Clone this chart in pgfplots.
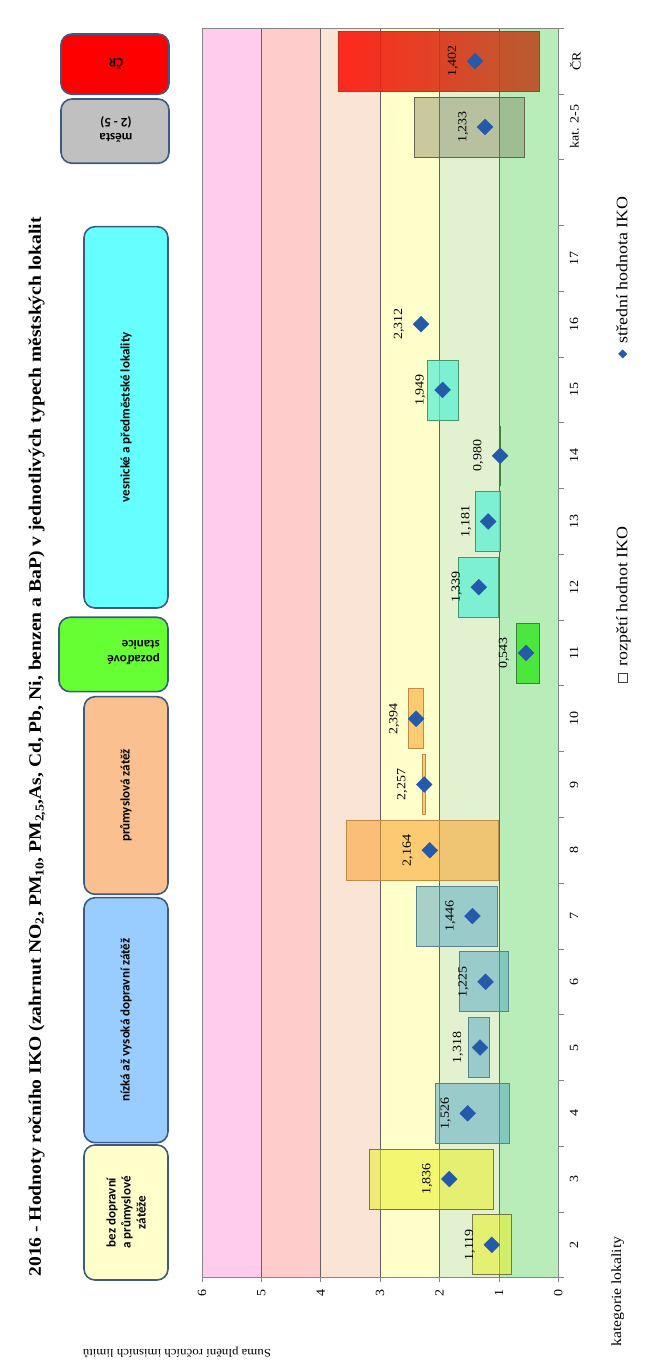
\documentclass[border=0pt]{standalone}
\usepackage{fontspec}
\setmainfont{Liberation Serif}[FakeStretch=1.12]
\newfontfamily\boxfont{Carlito}
\usepackage{graphicx}
\usepackage{pgfplots}
\pgfplotsset{compat=1.18}

\definecolor{bandA}{RGB}{184,236,184}
\definecolor{bandB}{RGB}{226,242,208}
\definecolor{bandC}{RGB}{255,255,204}
\definecolor{bandD}{RGB}{250,228,214}
\definecolor{bandE}{RGB}{255,204,204}
\definecolor{bandF}{RGB}{255,204,238}
\definecolor{yelF}{RGB}{232,240,40}
\definecolor{yelE}{RGB}{120,120,70}
\definecolor{tealF}{RGB}{80,165,195}
\definecolor{tealE}{RGB}{90,130,140}
\definecolor{orF}{RGB}{250,160,40}
\definecolor{orE}{RGB}{190,140,70}
\definecolor{grF}{RGB}{50,230,30}
\definecolor{grE}{RGB}{60,130,60}
\definecolor{aqF}{RGB}{90,240,210}
\definecolor{aqE}{RGB}{70,150,110}
\definecolor{gyF}{RGB}{120,120,90}
\definecolor{gyE}{RGB}{100,100,80}
\definecolor{redT}{RGB}{255,20,10}
\definecolor{redM}{RGB}{240,50,12}
\definecolor{redB}{RGB}{185,78,32}
\definecolor{redE}{RGB}{170,60,40}
\definecolor{dia}{RGB}{37,90,170}
\definecolor{boxE}{RGB}{60,90,130}
\definecolor{bx1}{RGB}{255,255,204}
\definecolor{bx2}{RGB}{153,204,255}
\definecolor{bx3}{RGB}{250,192,144}
\definecolor{bx4}{RGB}{102,255,51}
\definecolor{bx5}{RGB}{102,255,255}
\definecolor{bx6}{RGB}{192,192,192}
\definecolor{bx7}{RGB}{255,0,0}
\definecolor{axgray}{RGB}{134,134,134}

\begin{document}
\rotatebox{90}{%
\begin{tikzpicture}[x=1pt,y=1pt]
\path (0,0) rectangle (1371,650);

% title
\node[font=\bfseries\fontsize{17.5}{20}\selectfont] at (624,613)
 {2016 - Hodnoty ročního IKO (zahrnut NO\textsubscript{2}, PM\textsubscript{10}, PM\textsubscript{2,5},As, Cd, Pb, Ni, benzen a BaP) v jednotlivých typech městských lokalit};

% category boxes
\tikzset{catbox/.style={rounded corners=11pt, draw=boxE, line width=1.6pt}}
\draw[catbox, fill=bx1] (91,482) rectangle (226,566);
\draw[catbox, fill=bx2] (228.3,482) rectangle (473.3,566);
\draw[catbox, fill=bx3] (476.7,482) rectangle (674.3,566);
\draw[catbox, fill=bx4] (679.3,482) rectangle (753.7,591);
\draw[catbox, fill=bx5] (763,482) rectangle (1144.3,566);
\draw[catbox, fill=bx6] (1207.7,481) rectangle (1272,589);
\draw[catbox, fill=bx7] (1276.7,481) rectangle (1337,589);
\tikzset{boxtxt/.style={font=\boxfont\bfseries\fontsize{13}{15}\selectfont}}
\node[boxtxt, align=center] at (158.5,524) {bez dopravní\\a průmyslové\\zátěže};
\node[boxtxt] at (350.8,524) {nízká až vysoká dopravní zátěž};
\node[boxtxt] at (575.5,524) {průmyslová zátěž};
\node[boxtxt, rotate=90, anchor=west, align=left, inner sep=0pt] at (718.5,490) {pozaďové\\stanice};
\node[boxtxt] at (953.7,524) {vesnické a předměstské lokality};
\node[boxtxt, rotate=90, align=center] at (1241.5,534) {města\\(2 - 5)};
\node[boxtxt, rotate=90] at (1307,534) {ČR};

% axis side texts
\node[rotate=90, font=\fontsize{11.5}{13}\selectfont] at (19,473) {Suma plnění ročních imisních limitů};
\node[anchor=west, inner sep=0pt, font=\fontsize{14}{16}\selectfont] at (24,32.3) {kategorie lokality};

\begin{axis}[
  at={(93.3pt,91.7pt)}, anchor=south west,
  width=1249.4pt, height=356.3pt, scale only axis,
  set layers,
  xmin=-0.5, xmax=18.5, ymin=0, ymax=6,
  xtick={0,...,18},
  xticklabels={2,3,4,5,6,7,8,9,10,11,12,13,14,15,16,17,{},kat. 2-5,ČR},
  minor xtick={-0.5,0.5,...,18.5},
  ytick={0,...,6},
  xtick pos=bottom, ytick pos=left,
  tick align=outside,
  major x tick style={draw=none},
  minor x tick style={draw=axgray, line width=0.8pt},
  minor tick length=6pt,
  major tick length=4pt,
  ytick style={draw=axgray, line width=0.8pt},
  axis line style={draw=axgray, line width=0.9pt},
  ymajorgrids,
  grid style={draw=black!62, line width=0.7pt},
  /pgf/number format/assume math mode=true,
  ticklabel style={font=\fontsize{12.5}{14}\selectfont},
  xticklabel style={yshift=-4pt},
  yticklabel style={xshift=-4pt},
  legend style={draw=none, fill=none, at={(0.474,-0.1807)}, anchor=west,
    font=\fontsize{16}{18}\selectfont,
    /tikz/every odd column/.append style={column sep=4pt},
    /tikz/every even column/.append style={column sep=166pt}},
  legend columns=2,
]
\begin{pgfonlayer}{axis background}
\fill[bandA] (axis cs:-0.5,0) rectangle (axis cs:18.5,1);
\fill[bandB] (axis cs:-0.5,1) rectangle (axis cs:18.5,2);
\fill[bandC] (axis cs:-0.5,2) rectangle (axis cs:18.5,3);
\fill[bandD] (axis cs:-0.5,3) rectangle (axis cs:18.5,4);
\fill[bandE] (axis cs:-0.5,4) rectangle (axis cs:18.5,5);
\fill[bandF] (axis cs:-0.5,5) rectangle (axis cs:18.5,6);
\end{pgfonlayer}

% range bars (min..max per category)
\addplot[draw=yelE, fill=yelF, fill opacity=0.55, line width=0.8pt, forget plot] coordinates {(-0.456,0.785) (0.456,0.785) (0.456,1.448) (-0.456,1.448)} -- cycle;
\addplot[draw=yelE, fill=yelF, fill opacity=0.55, line width=0.8pt, forget plot] coordinates {(0.544,1.09) (1.456,1.09) (1.456,3.18) (0.544,3.18)} -- cycle;
\addplot[draw=tealE, fill=tealF, fill opacity=0.5, line width=0.8pt, forget plot] coordinates {(1.544,0.82) (2.456,0.82) (2.456,2.07) (1.544,2.07)} -- cycle;
\addplot[draw=tealE, fill=tealF, fill opacity=0.5, line width=0.8pt, forget plot] coordinates {(2.544,1.16) (3.456,1.16) (3.456,1.51) (2.544,1.51)} -- cycle;
\addplot[draw=tealE, fill=tealF, fill opacity=0.5, line width=0.8pt, forget plot] coordinates {(3.544,0.84) (4.456,0.84) (4.456,1.66) (3.544,1.66)} -- cycle;
\addplot[draw=tealE, fill=tealF, fill opacity=0.5, line width=0.8pt, forget plot] coordinates {(4.544,1.03) (5.456,1.03) (5.456,2.39) (4.544,2.39)} -- cycle;
\addplot[draw=orE, fill=orF, fill opacity=0.55, line width=0.8pt, forget plot] coordinates {(5.544,1.01) (6.456,1.01) (6.456,3.57) (5.544,3.57)} -- cycle;
\addplot[draw=orE, fill=orF, fill opacity=0.55, line width=0.8pt, forget plot] coordinates {(6.544,2.23) (7.456,2.23) (7.456,2.29) (6.544,2.29)} -- cycle;
\addplot[draw=orE, fill=orF, fill opacity=0.55, line width=0.8pt, forget plot] coordinates {(7.544,2.27) (8.456,2.27) (8.456,2.53) (7.544,2.53)} -- cycle;
\addplot[draw=grE, fill=grF, fill opacity=0.8, line width=0.8pt, forget plot] coordinates {(8.544,0.325) (9.456,0.325) (9.456,0.707) (8.544,0.707)} -- cycle;
\addplot[draw=aqE, fill=aqF, fill opacity=0.75, line width=0.8pt, forget plot] coordinates {(9.544,1.003) (10.456,1.003) (10.456,1.677) (9.544,1.677)} -- cycle;
\addplot[draw=aqE, fill=aqF, fill opacity=0.75, line width=0.8pt, forget plot] coordinates {(10.544,0.98) (11.456,0.98) (11.456,1.39) (10.544,1.39)} -- cycle;
\addplot[draw=grE, line width=1.3pt, forget plot] coordinates {(11.544,0.98) (12.456,0.98)};
\addplot[draw=aqE, fill=aqF, fill opacity=0.75, line width=0.8pt, forget plot] coordinates {(12.544,1.69) (13.456,1.69) (13.456,2.21) (12.544,2.21)} -- cycle;
\addplot[draw=gyE, fill=gyF, fill opacity=0.4, line width=0.8pt, forget plot] coordinates {(16.544,0.572) (17.456,0.572) (17.456,2.43) (16.544,2.43)} -- cycle;
\addplot[draw=redE, top color=redT, middle color=redM, bottom color=redB, fill opacity=0.9, line width=0.8pt, forget plot] coordinates {(17.544,0.325) (18.456,0.325) (18.456,3.71) (17.544,3.71)} -- cycle;

% mean values
\addplot[only marks, mark=square*, mark size=5.6pt,
  mark options={rotate=45, fill=dia, draw=dia},
  point meta=y,
  nodes near coords={\pgfmathprintnumber[fixed,fixed zerofill,precision=3,use comma,assume math mode=true]{\pgfplotspointmeta}},
  every node near coord/.append style={anchor=center, yshift=22pt, font=\fontsize{12.5}{14}\selectfont, text=black},
  forget plot]
 coordinates {(0,1.119) (1,1.836) (2,1.526) (3,1.318) (4,1.225) (5,1.446) (6,2.164) (7,2.257) (8,2.394) (9,0.543) (10,1.339) (11,1.181) (12,0.980) (13,1.949) (14,2.312) (17,1.233) (18,1.402)};

\addlegendimage{legend image code/.code={\draw[black!75, line width=0.6pt] (-4.5pt,-4.5pt) rectangle (4.5pt,4.5pt);}}
\addlegendentry{rozpětí hodnot IKO}
\addlegendimage{legend image code/.code={\fill[dia] (0,-4.2pt) -- (4.2pt,0) -- (0,4.2pt) -- (-4.2pt,0) -- cycle;}}
\addlegendentry{střední hodnota IKO}
\end{axis}
\end{tikzpicture}}
\end{document}
